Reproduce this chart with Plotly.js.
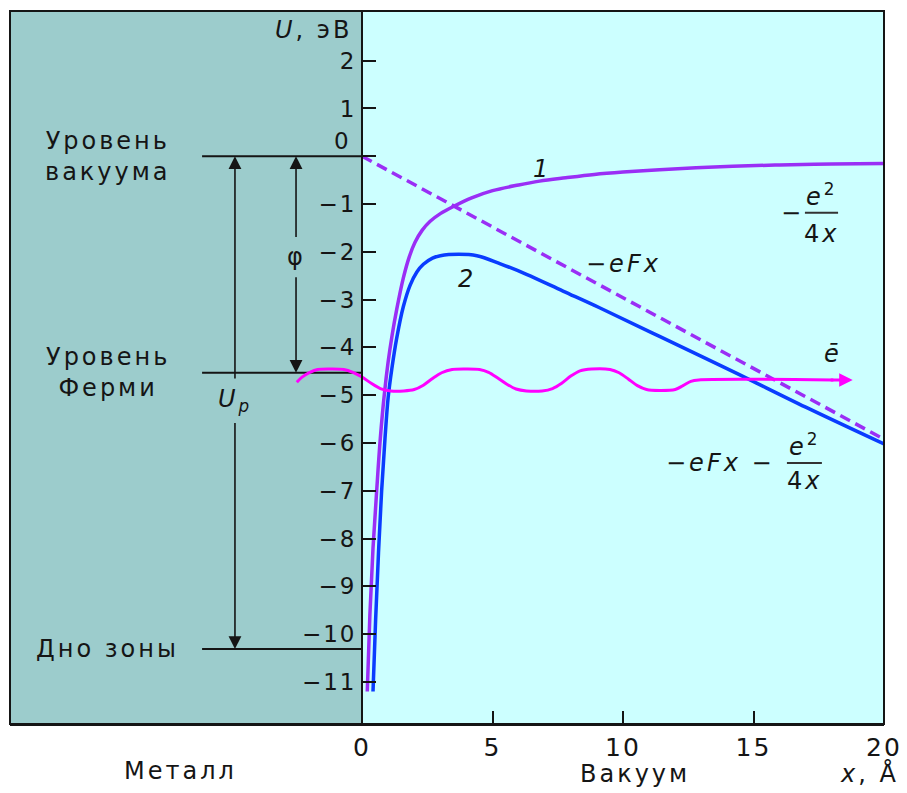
<!DOCTYPE html>
<html><head><meta charset="utf-8">
<script src="https://cdn.plot.ly/plotly-3.0.1.min.js"></script>
<style>
html,body{margin:0;padding:0;background:#fff;}
#chart{width:907px;height:793px;}
.annotation-text{letter-spacing:3px;}
.ytick text,.xtick text{letter-spacing:2px;}
</style></head><body><div id="chart"></div>
<script>
// ---- data ----
const xTickVals = [0, 5, 10, 15, 20];
const yTickVals = [-11, -10, -9, -8, -7, -6, -5, -4, -3, -2, -1, 0, 1, 2];
const yTickText = yTickVals.map(v => v === 0 ? '' : (v < 0 ? '\u2212' + (-v) : String(v)));

// curve 1: image potential  -e^2/4x
const imageX = [0.2, 0.3, 0.42, 0.56, 0.7, 0.85, 1.0, 1.15, 1.33, 1.58, 1.8, 2.03, 2.3, 2.61, 3.0, 3.5, 4.2, 5.0, 6.0, 6.8, 7.8, 8.9, 10.0, 11.4, 12.8, 14.2, 16.0, 18.0, 20.0];
const imageY = [-11.2, -9.6, -8.2, -7.0, -5.9, -5.0, -4.3, -3.75, -3.2, -2.55, -2.12, -1.8, -1.55, -1.36, -1.2, -1.05, -0.87, -0.72, -0.6, -0.52, -0.45, -0.38, -0.33, -0.28, -0.24, -0.21, -0.18, -0.16, -0.15];

// curve 2: -eFx - e^2/4x
const totalX = [0.42, 0.52, 0.63, 0.75, 0.88, 1.0, 1.14, 1.33, 1.58, 1.84, 2.1, 2.35, 2.7, 3.0, 3.7, 4.4, 5.3, 6.3, 7.7, 9.1, 11.4, 14.2, 17.0, 20.0];
const totalY = [-11.2, -9.7, -8.3, -7.0, -5.9, -5.05, -4.45, -3.8, -3.15, -2.7, -2.42, -2.26, -2.13, -2.08, -2.05, -2.08, -2.25, -2.47, -2.82, -3.17, -3.77, -4.5, -5.25, -6.02];

// dashed: -eFx
const fieldX = [0, 20];
const fieldY = [0, -5.92];

// electron wave
const waveX = [-2.5, -2.3, -2.0, -1.7, -1.2, -0.7, -0.35, 0.0, 0.35, 0.7, 1.1, 1.6, 2.0, 2.35, 2.7, 3.05, 3.45, 4.0, 4.5, 4.85, 5.2, 5.55, 5.9, 6.3, 6.9, 7.3, 7.65, 8.0, 8.35, 8.8, 9.5, 9.85, 10.2, 10.55, 10.9, 11.4, 12.0, 12.3, 12.6, 12.9, 18.06];
const waveY = [-4.73, -4.62, -4.52, -4.46, -4.45, -4.46, -4.52, -4.62, -4.75, -4.86, -4.91, -4.91, -4.88, -4.79, -4.65, -4.53, -4.46, -4.45, -4.46, -4.52, -4.64, -4.77, -4.87, -4.91, -4.91, -4.86, -4.75, -4.6, -4.49, -4.45, -4.46, -4.53, -4.66, -4.8, -4.88, -4.9, -4.88, -4.8, -4.71, -4.68, -4.68];
const waveArrowTip = 18.8;

// energy levels in the metal
const levelNames = ['Уровень<br>вакуума', 'Уровень<br>Ферми', 'Дно зоны'];
const levelValues = [0, -4.53, -10.31];
const levelStartX = -6.13;
const levelLabelX = -9.75;

// arrows
const phiX = -2.53;
const upX = -4.87;

// ---- styling ----
const X_MIN = -13.49, X_MAX = 20, Y_MIN = -11.88, Y_MAX = 3.04;
const PURPLE = '#9a2ef5', BLUE = '#0a3cff', MAGENTA = '#ff00ff', INK = '#151515';
const FONT = 'DejaVu Sans, sans-serif';

const traces = [];
levelValues.forEach(v => traces.push({x: [levelStartX, 0], y: [v, v], mode: 'lines', line: {color: INK, width: 2}, hoverinfo: 'skip'}));
traces.push({x: fieldX, y: fieldY, mode: 'lines', line: {color: PURPLE, width: 3.5, dash: '11px,6px'}});
traces.push({x: imageX, y: imageY, mode: 'lines', line: {color: PURPLE, width: 3.5, shape: 'spline', smoothing: 1}});
traces.push({x: totalX, y: totalY, mode: 'lines', line: {color: BLUE, width: 3.5, shape: 'spline', smoothing: 1}});
traces.push({x: waveX, y: waveY, mode: 'lines', line: {color: MAGENTA, width: 3, shape: 'spline', smoothing: 0.8}, cliponaxis: false});

function txt(x, y, text, size, extra) {
  return Object.assign({x: x, y: y, xref: 'x', yref: 'y', text: text, showarrow: false,
    xanchor: 'center', yanchor: 'middle',
    font: {family: FONT, size: size || 24, color: INK}}, extra || {});
}
function arrow(x, y, ax, ay, color, w, size) {
  return {x: x, y: y, ax: ax, ay: ay, xref: 'x', yref: 'y', axref: 'x', ayref: 'y', text: '',
    showarrow: true, arrowhead: 2, arrowsize: size, arrowwidth: w, arrowcolor: color, standoff: 0, startstandoff: 0};
}

const annotations = [
  txt(0, 2.65, '<i>U</i>, эВ', 24, {xanchor: 'right', xshift: -8}),
  txt(0, 0.32, '0', 23, {xanchor: 'right', xshift: -8}),
  txt(levelLabelX, levelValues[0], levelNames[0], 24),
  txt(levelLabelX, levelValues[1], levelNames[1], 24),
  txt(levelLabelX, levelValues[2], levelNames[2], 24),
  txt(phiX, -2.1, 'φ', 24),
  txt(upX, -5.1, '<i>U</i><sub><i>p</i></sub>', 24),
  arrow(upX, levelValues[0], upX, -4.68, INK, 1.6, 1.6),
  arrow(upX, levelValues[2], upX, -5.55, INK, 1.6, 1.6),
  arrow(phiX, levelValues[0], phiX, -1.72, INK, 1.6, 1.6),
  arrow(phiX, levelValues[1], phiX, -2.5, INK, 1.6, 1.6),
  txt(6.88, -0.27, '<i>1</i>', 24),
  txt(4.01, -2.57, '<i>2</i>', 24),
  txt(10.0, -2.26, '<i>\u2212eFx</i>', 24),
  txt(16.5, -1.18, '\u2212', 24),
  txt(17.6, -0.8, '<i>e</i><sup>2</sup>', 24),
  txt(17.6, -1.62, '4<i>x</i>', 24),
  txt(13.72, -6.42, '<i>\u2212eFx</i> \u2212', 24),
  txt(16.97, -6.04, '<i>e</i><sup>2</sup>', 24),
  txt(16.97, -6.8, '4<i>x</i>', 24),
  txt(18.05, -4.13, '<i>ē</i>', 24),
  arrow(waveArrowTip, waveY[waveY.length - 1], 17.9, waveY[waveY.length - 1], MAGENTA, 3, 0.9),
  txt(-6.97, -0.066, 'Металл', 24, {yref: 'paper'}),
  txt(10.46, -0.07, 'Вакуум', 24, {yref: 'paper'}),
  txt(19.43, -0.07, '<i>x</i>, Å', 24, {yref: 'paper'})
];

const layout = {
  width: 907, height: 793,
  margin: {l: 10, r: 23, t: 11, b: 69},
  paper_bgcolor: '#ffffff', plot_bgcolor: '#ccffff',
  showlegend: false,
  font: {family: FONT, size: 24, color: INK},
  xaxis: {range: [X_MIN, X_MAX], domain: [0, 1], tickvals: xTickVals, ticks: 'inside', ticklen: 13, tickwidth: 2,
    tickcolor: INK, showline: true, linecolor: INK, linewidth: 2, showgrid: false, zeroline: false,
    tickfont: {family: FONT, size: 25, color: INK}, fixedrange: true},
  yaxis: {range: [Y_MIN, Y_MAX], anchor: 'free', position: (0 - X_MIN) / (X_MAX - X_MIN), side: 'left',
    tickvals: yTickVals, ticktext: yTickText, ticks: 'inside', ticklen: 13, tickwidth: 2, tickcolor: INK,
    showline: true, linecolor: INK, linewidth: 2, showgrid: false, zeroline: false,
    tickfont: {family: FONT, size: 23, color: INK}, fixedrange: true},
  shapes: [
    {type: 'rect', xref: 'x', yref: 'paper', x0: X_MIN, x1: 0, y0: 0, y1: 1, fillcolor: '#9ccccc', line: {width: 0}, layer: 'below'},
    {type: 'rect', xref: 'paper', yref: 'paper', x0: 0, x1: 1, y0: 0, y1: 1, line: {color: INK, width: 2}, fillcolor: 'rgba(0,0,0,0)'},
    {type: 'line', xref: 'x', yref: 'y', x0: 16.97, x1: 18.24, y0: -1.18, y1: -1.18, line: {color: '#333', width: 2}},
    {type: 'line', xref: 'x', yref: 'y', x0: 16.28, x1: 17.62, y0: -6.42, y1: -6.42, line: {color: '#333', width: 2}}
  ],
  annotations: annotations
};

Plotly.newPlot('chart', traces, layout, {displayModeBar: false, staticPlot: true});
</script></body></html>
